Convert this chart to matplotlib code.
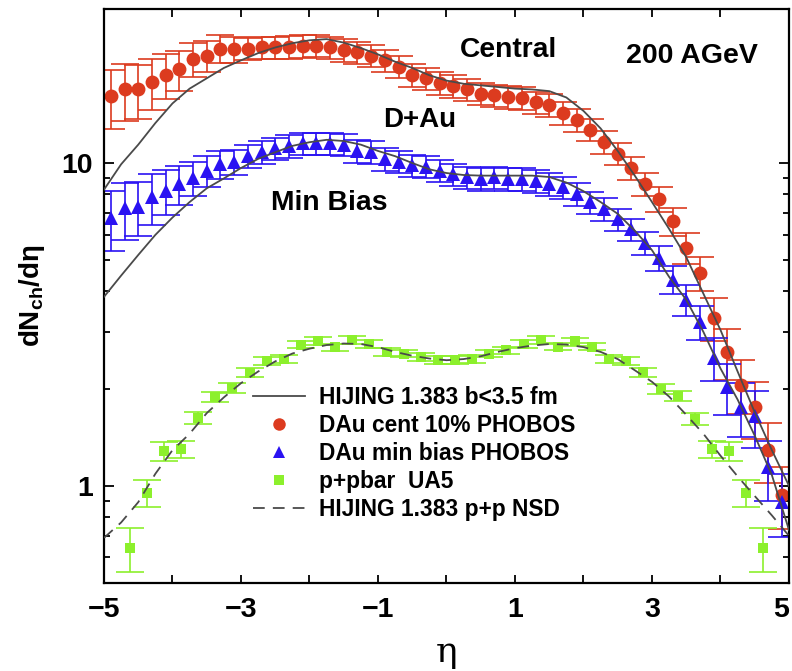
import numpy as np
import matplotlib
matplotlib.use("Agg")
import matplotlib.pyplot as plt
from matplotlib.lines import Line2D
from matplotlib.legend_handler import HandlerLine2D
from matplotlib.ticker import FixedLocator, NullFormatter

plt.rcParams['font.family'] = 'Liberation Sans'
plt.rcParams['font.weight'] = 'bold'
plt.rcParams['mathtext.fontset'] = 'custom'
plt.rcParams['mathtext.rm'] = 'Liberation Sans:bold'
plt.rcParams['mathtext.bf'] = 'Liberation Sans:bold'
plt.rcParams['mathtext.it'] = 'Liberation Sans:bold'

# --- PHOBOS d+Au dN/deta ---
eta_phobos = [-4.9, -4.7, -4.5, -4.3, -4.1, -3.9, -3.7, -3.5, -3.3, -3.1,
              -2.9, -2.7, -2.5, -2.3, -2.1, -1.9, -1.7, -1.5, -1.3, -1.1,
              -0.9, -0.7, -0.5, -0.3, -0.1, 0.1, 0.3, 0.5, 0.7, 0.9,
              1.1, 1.3, 1.5, 1.7, 1.9, 2.1, 2.3, 2.5, 2.7, 2.9,
              3.1, 3.3, 3.5, 3.7, 3.9, 4.1, 4.3, 4.5, 4.7, 4.9]
dau_central = [16.1, 16.9, 16.9, 17.8, 18.8, 19.5, 21.0, 21.5, 22.6, 22.5,
               22.6, 22.8, 22.8, 22.9, 23.0, 23.1, 22.8, 22.4, 22.0, 21.5,
               20.8, 19.9, 18.7, 18.3, 17.7, 17.3, 16.9, 16.4, 16.2, 16.0,
               15.9, 15.4, 15.1, 14.3, 13.6, 12.7, 11.6, 10.7, 9.65, 8.61,
               7.74, 6.61, 5.46, 4.57, 3.31, 2.59, 2.06, 1.75, 1.29, 0.94]
dau_minbias = [6.77, 7.23, 7.33, 7.82, 8.19, 8.60, 8.99, 9.48, 9.91, 10.1,
               10.5, 10.8, 11.1, 11.3, 11.5, 11.5, 11.5, 11.4, 10.9, 10.8,
               10.3, 10.1, 9.83, 9.74, 9.48, 9.22, 9.03, 8.92, 9.03, 8.92,
               8.92, 8.80, 8.60, 8.40, 8.01, 7.55, 7.19, 6.69, 6.23, 5.66,
               5.08, 4.35, 3.77, 3.22, 2.49, 2.02, 1.75, 1.64, 1.14, 0.89]
phobos_rel_err = [0.21, 0.20, 0.19, 0.18, 0.16, 0.14, 0.12, 0.11, 0.10, 0.09,
                  0.08, 0.08, 0.08, 0.08, 0.08, 0.08, 0.08, 0.08, 0.08, 0.08,
                  0.08, 0.08, 0.08, 0.08, 0.08, 0.08, 0.08, 0.08, 0.08, 0.08,
                  0.08, 0.08, 0.08, 0.08, 0.08, 0.08, 0.08, 0.08, 0.08, 0.08,
                  0.09, 0.10, 0.11, 0.12, 0.15, 0.18, 0.19, 0.20, 0.21, 0.22]

# --- UA5 p+pbar ---
eta_ua5 = [-4.625, -4.375, -4.125, -3.875, -3.625, -3.375, -3.125, -2.875, -2.625, -2.375,
           -2.125, -1.875, -1.625, -1.375, -1.125, -0.875, -0.625, -0.375, -0.125,
           0.125, 0.375, 0.625, 0.875, 1.125, 1.375, 1.625, 1.875, 2.125, 2.375,
           2.625, 2.875, 3.125, 3.375, 3.625, 3.875, 4.125, 4.375, 4.625]
ua5 = [0.64, 0.95, 1.28, 1.30, 1.62, 1.89, 2.01, 2.24, 2.44, 2.48,
       2.74, 2.81, 2.69, 2.84, 2.75, 2.60, 2.57, 2.51, 2.45,
       2.45, 2.48, 2.57, 2.63, 2.75, 2.84, 2.70, 2.80, 2.70, 2.48,
       2.44, 2.25, 2.00, 1.90, 1.61, 1.30, 1.28, 0.95, 0.64]
ua5_err = [0.10, 0.09, 0.09, 0.08, 0.07, 0.07, 0.07, 0.07, 0.07, 0.07,
           0.07, 0.08, 0.07, 0.08, 0.07, 0.07, 0.07, 0.07, 0.07,
           0.07, 0.07, 0.07, 0.07, 0.07, 0.08, 0.07, 0.08, 0.07, 0.07,
           0.07, 0.07, 0.07, 0.07, 0.07, 0.08, 0.09, 0.09, 0.10]

# --- HIJING 1.383 curves ---
eta_hijing = [-5.0, -4.75, -4.5, -4.25, -4.0, -3.75, -3.5, -3.25, -3.0, -2.75,
              -2.5, -2.25, -2.0, -1.75, -1.5, -1.25, -1.0, -0.75, -0.5, -0.25,
              0.0, 0.25, 0.5, 0.75, 1.0, 1.25, 1.5, 1.75, 2.0, 2.25,
              2.5, 2.75, 3.0, 3.25, 3.5, 3.75, 4.0, 4.25, 4.5, 4.75, 5.0]
hijing_central = [8.27, 9.91, 11.4, 13.3, 15.3, 17.0, 18.3, 19.7, 20.8, 21.9,
                  22.8, 23.5, 24.0, 24.2, 23.6, 22.7, 21.7, 20.6, 19.7, 18.7,
                  18.0, 17.6, 17.4, 17.2, 17.0, 16.9, 16.7, 15.96, 14.5, 12.8,
                  10.9, 9.13, 7.57, 6.25, 5.11, 3.94, 3.04, 2.26, 1.69, 1.29, 1.0]
hijing_minbias = [3.85, 4.48, 5.19, 5.99, 6.78, 7.57, 8.35, 8.96, 9.65, 10.3,
                  10.8, 11.3, 11.6, 11.8, 11.7, 11.4, 10.9, 10.5, 10.0, 9.56,
                  9.31, 9.18, 9.14, 9.14, 9.14, 9.14, 9.05, 8.70, 8.18, 7.57,
                  6.96, 6.17, 5.37, 4.44, 3.77, 3.00, 2.31, 1.85, 1.43, 1.08, 0.73]
hijing_pp = [0.69, 0.77, 0.89, 1.09, 1.29, 1.45, 1.68, 1.88, 2.08, 2.26,
             2.43, 2.57, 2.66, 2.73, 2.76, 2.75, 2.69, 2.60, 2.53, 2.48,
             2.45, 2.47, 2.52, 2.60, 2.67, 2.72, 2.75, 2.74, 2.69, 2.60,
             2.47, 2.28, 2.10, 1.89, 1.66, 1.45, 1.24, 1.07, 0.93, 0.81, 0.70]

red = "#dc3b1f"
blue = "#2a12f2"
green = "#8cf02c"
gray = "#4a4a4a"
dashes = (0, (6.5, 4.5))


class MarkerRight(HandlerLine2D):
    # put the legend marker at the right end of the handle
    def get_xdata(self, legend, xdescent, ydescent, width, height, fontsize):
        xdata, _ = super().get_xdata(legend, xdescent, ydescent, width, height, fontsize)
        return xdata, np.array([width - xdescent - 0.05 * fontsize])


fig = plt.figure(figsize=(7.92, 6.71), dpi=100)
ax = fig.add_axes([0.1313, 0.1311, 0.8649, 0.8555])

c_err = np.array(dau_central) * np.array(phobos_rel_err)
m_err = np.array(dau_minbias) * np.array(phobos_rel_err)

ebkw = dict(ls="none", capsize=10, elinewidth=1.2, capthick=1.2, zorder=2)
sets = [(eta_phobos, dau_central, c_err, "o", red, 10),
        (eta_phobos, dau_minbias, m_err, "^", blue, 10),
        (eta_ua5, ua5, ua5_err, "s", green, 7)]
for x, y, e, m, c, ms in sets:
    line, caps, bars = ax.errorbar(x, y, yerr=e, fmt=m, color=c, ms=ms, **ebkw)
    line.set_markeredgewidth(0)

ax.plot(eta_hijing, hijing_central, color=gray, lw=1.3, zorder=3)
ax.plot(eta_hijing, hijing_minbias, color=gray, lw=1.3, zorder=3)
ax.plot(eta_hijing, hijing_pp, color=gray, lw=1.3, ls=dashes, zorder=3)

ax.set_yscale("log")
ax.set_xlim(-5, 5)
ax.set_ylim(0.5, 30)

ax.xaxis.set_major_locator(FixedLocator([-5, -3, -1, 1, 3, 5]))
ax.xaxis.set_minor_locator(FixedLocator([-4, -2, 0, 2, 4]))
ax.yaxis.set_major_locator(FixedLocator([1, 10]))
ax.yaxis.set_minor_locator(FixedLocator([0.6, 0.7, 0.8, 0.9, 2, 3, 4, 5, 6, 7, 8, 9]))
ax.yaxis.set_minor_formatter(NullFormatter())
ax.set_yticklabels(["1", "10"])
ax.set_xticklabels(["\u22125", "\u22123", "\u22121", "1", "3", "5"])
ax.get_xticklabels()[-1].set_horizontalalignment("right")

ax.tick_params(which="both", direction="in", top=True, right=True, width=1.3, labelsize=20.5)
ax.tick_params(axis="x", which="both", length=6, pad=10)
ax.tick_params(axis="y", which="major", length=7, pad=8)
ax.tick_params(axis="y", which="minor", length=4)
for s in ax.spines.values():
    s.set_linewidth(1.6)

ax.set_xlabel("\u03b7", fontsize=26, fontweight="normal", family="DejaVu Serif", labelpad=9)
ax.set_ylabel(r"$\mathbf{dN}_{\mathbf{ch}}\mathbf{/d\eta}$", fontsize=20, labelpad=10)

ax.text(0.590, 0.929, "Central", transform=ax.transAxes, ha="center", va="center", fontsize=20.3)
ax.text(0.858, 0.918, "200 AGeV", transform=ax.transAxes, ha="center", va="center", fontsize=20.5)
ax.text(0.461, 0.806, "D+Au", transform=ax.transAxes, ha="center", va="center", fontsize=20)
ax.text(0.329, 0.662, "Min Bias", transform=ax.transAxes, ha="center", va="center", fontsize=20.4)

handles = [
    Line2D([], [], color=gray, lw=1.3),
    Line2D([], [], ls="none", marker="o", color=red, ms=9, mew=0),
    Line2D([], [], ls="none", marker="^", color=blue, ms=9, mew=0),
    Line2D([], [], ls="none", marker="s", color=green, ms=7, mew=0),
    Line2D([], [], color=gray, lw=1.3, ls=dashes),
]
labels = ["HIJING 1.383 b<3.5 fm", "DAu cent 10% PHOBOS", "DAu min bias PHOBOS",
          "p+pbar  UA5", "HIJING 1.383 p+p NSD"]
ax.legend(handles, labels, loc="upper left", bbox_to_anchor=(0.2175, 0.343),
          frameon=False, prop={"weight": "bold", "size": 16.4}, handlelength=2.3,
          handletextpad=0.58, labelspacing=0.22, borderpad=0, borderaxespad=0,
          handler_map={h: MarkerRight(numpoints=1) for h in handles[1:4]})

fig.savefig("out.png", dpi=100)
